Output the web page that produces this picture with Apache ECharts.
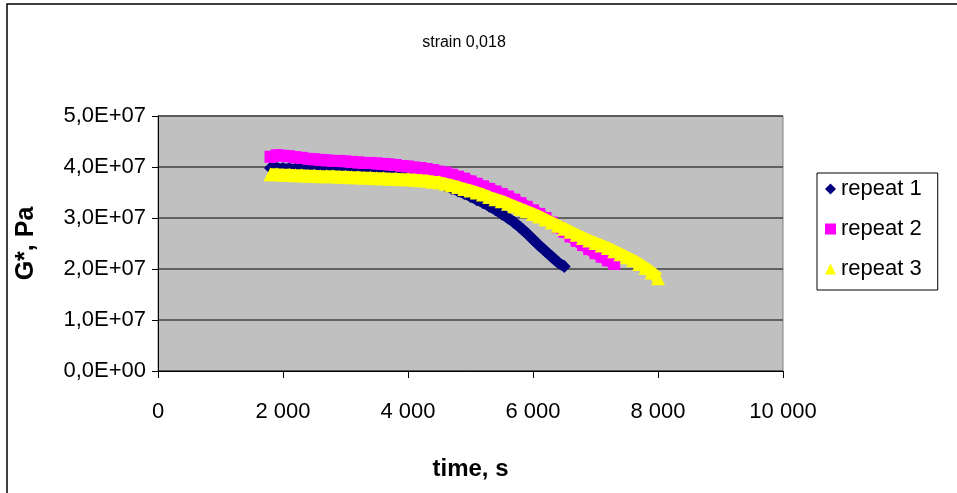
<!DOCTYPE html>
<html>
<head>
<meta charset="utf-8">
<script src="https://cdn.jsdelivr.net/npm/echarts@6/dist/echarts.min.js"></script>
<style>html,body{margin:0;padding:0;background:#fff;}#c{width:957px;height:493px;}</style>
</head>
<body>
<div id="c"></div>
<script>
var times = [1800,1900,2000,2100,2200,2300,2400,2500,2600,2700,2800,2900,3000,3100,3200,3300,3400,3500,3600,3700,3800,3900,4000,4100,4200,4300,4400,4500,4600,4700,4800,4900,5000,5100,5200,5300,5400,5500,5600,5700,5800,5900,6000,6100,6200,6300,6400,6500,6600,6700,6800,6900,7000,7100,7200,7300,7400,7500,7600,7700,7800,7900,8000];
// G* values in units of 1E+07 Pa
var repeat1 = [3.98,3.98,3.97,3.97,3.96,3.96,3.95,3.95,3.95,3.94,3.94,3.93,3.93,3.92,3.92,3.91,3.90,3.90,3.89,3.88,3.87,3.86,3.85,3.83,3.81,3.78,3.73,3.68,3.63,3.58,3.53,3.48,3.42,3.36,3.30,3.23,3.16,3.08,3.00,2.91,2.81,2.70,2.58,2.46,2.35,2.24,2.13,2.05];
var repeat2 = [4.20,4.23,4.22,4.21,4.19,4.18,4.16,4.15,4.14,4.13,4.12,4.12,4.11,4.10,4.09,4.08,4.08,4.07,4.06,4.05,4.04,4.02,4.01,3.99,3.98,3.96,3.94,3.91,3.89,3.85,3.81,3.77,3.72,3.67,3.62,3.57,3.52,3.47,3.42,3.36,3.29,3.22,3.15,3.08,3.00,2.91,2.82,2.73,2.64,2.55,2.47,2.39,2.31,2.24,2.17,2.10];
var repeat3 = [3.86,3.86,3.85,3.85,3.84,3.84,3.83,3.83,3.82,3.82,3.82,3.81,3.81,3.80,3.80,3.79,3.79,3.78,3.78,3.77,3.77,3.76,3.76,3.75,3.74,3.73,3.71,3.70,3.67,3.64,3.61,3.57,3.54,3.50,3.46,3.41,3.37,3.33,3.28,3.23,3.18,3.13,3.08,3.03,2.97,2.91,2.85,2.79,2.73,2.67,2.61,2.56,2.51,2.46,2.41,2.35,2.29,2.23,2.17,2.10,2.02,1.93,1.82];
var seriesNames = ['repeat 1','repeat 2','repeat 3'];
var xTicks = [0,2000,4000,6000,8000,10000];
var yTicks = [0,1e7,2e7,3e7,4e7,5e7];

function pairs(vals){ return vals.map(function(v,i){ return [times[i], v*1e7]; }); }
function fmtX(v){ var s=String(Math.round(v)); return s.replace(/\B(?=(\d{3})+(?!\d))/g,'\u00a0'); }
function fmtY(v){
  if(v===0) return '0,0E+00';
  var e=Math.floor(Math.log10(Math.abs(v)+1e-9)); var m=v/Math.pow(10,e);
  return m.toFixed(1).replace('.',',')+'E+'+(e<10?'0':'')+e;
}
var font='Arial, "Liberation Sans", sans-serif';
function mk(i,symbol,size,color,lw){
  return {name:seriesNames[i],type:'line',z:2+i,symbol:symbol,symbolSize:size,showAllSymbol:true,
    itemStyle:{color:color},lineStyle:{color:color,width:lw},data:pairs([repeat1,repeat2,repeat3][i])};
}
var chart=echarts.init(document.getElementById('c'),null,{renderer:'canvas'});
chart.setOption({
  animation:false,
  backgroundColor:'#ffffff',
  title:{text:'strain 0,018',left:459,top:30,textAlign:'center',textStyle:{fontFamily:font,fontSize:16,fontWeight:'normal',color:'#000'}},
  graphic:[{type:'rect',shape:{x:7,y:4,width:1000,height:600},style:{fill:'none',stroke:'#000',lineWidth:1.5},silent:true}],
  legend:{orient:'vertical',left:817,top:173,padding:[5,16,10,8],itemGap:18,itemWidth:11,itemHeight:11,
    borderColor:'#000',borderWidth:1,backgroundColor:'#fff',
    textStyle:{fontFamily:font,fontSize:22,color:'#000'},
    data:[{name:'repeat 1',icon:'diamond'},{name:'repeat 2',icon:'rect'},{name:'repeat 3',icon:'triangle'}]},
  grid:{left:158,right:174,top:116,bottom:122,show:true,backgroundColor:'#C0C0C0',borderColor:'#808080',borderWidth:1},
  xAxis:{type:'value',min:xTicks[0],max:xTicks[xTicks.length-1],interval:2000,
    name:'time, s',nameLocation:'middle',nameGap:86,nameTextStyle:{fontFamily:font,fontSize:24,fontWeight:'bold',color:'#000'},
    axisLine:{show:true,onZero:false,lineStyle:{color:'#000',width:1}},
    axisTick:{show:true,inside:false,length:7,lineStyle:{color:'#000'}},
    axisLabel:{formatter:fmtX,fontFamily:font,fontSize:22,color:'#000',margin:30},
    splitLine:{show:false}},
  yAxis:{type:'value',min:yTicks[0],max:yTicks[yTicks.length-1],interval:1e7,
    name:'G*, Pa',nameLocation:'middle',nameGap:119,nameRotate:90,nameTextStyle:{fontFamily:font,fontSize:25,fontWeight:'bold',color:'#000'},
    axisLine:{show:true,lineStyle:{color:'#000',width:1}},
    axisTick:{show:true,inside:false,length:6,lineStyle:{color:'#000'}},
    axisLabel:{formatter:fmtY,fontFamily:font,fontSize:22,color:'#000',margin:12},
    splitLine:{show:true,lineStyle:{color:'#404040',width:1.5}}},
  series:[
    mk(0,'diamond',13,'#000080',10),
    mk(1,'rect',12,'#FF00FF',12),
    mk(2,'triangle',14,'#FFFF00',12)
  ]
});
</script>
</body>
</html>
